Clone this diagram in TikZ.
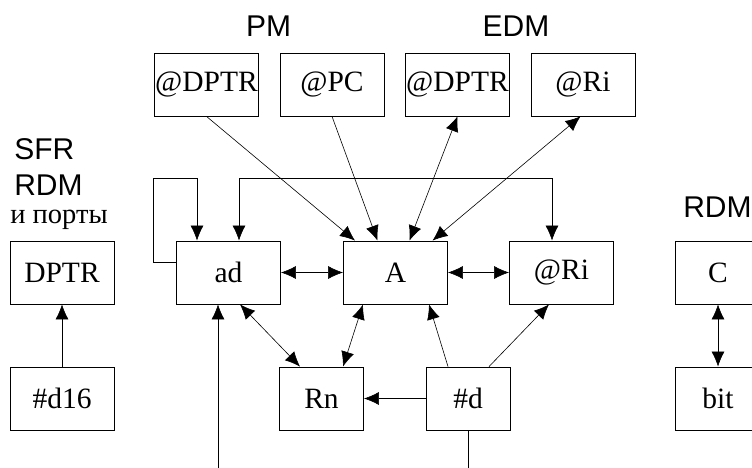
\documentclass[tikz,border=0pt]{standalone}
\usepackage{fontspec}
\setmainfont{Liberation Serif}
\newfontfamily\lblfont{Liberation Sans}
\usetikzlibrary{arrows.meta}

\begin{document}
\begin{tikzpicture}[x=1pt,y=-1pt,>={Latex[length=15pt,width=13pt]},line width=0.6pt,
    box/.style={draw,line width=0.8pt,minimum width=104pt,minimum height=63pt,inner sep=0pt,font=\fontsize{29.5}{32}\selectfont},
    smallbox/.style={box,minimum width=84pt},
    lbl/.style={inner sep=0pt,font=\lblfont\fontsize{30}{32}\selectfont},
    rulbl/.style={inner sep=0pt,font=\fontsize{28.5}{32}\selectfont}]
		\useasboundingbox (0,0) rectangle (752,468);
		\node[lbl,anchor=base]            (PM)                                  at (268.5,37) {PM};
		\node[lbl,anchor=base]            (EDM)                                 at (516,37)   {EDM};
		\node[lbl,anchor=base west]       (SFR)                                 at (14,160)   {SFR};
		\node[lbl,anchor=base west]       (RDMl)                                at (14,195)   {RDM};
		\node[rulbl,anchor=base west]     (port)                                at (10,223)   {и порты};
		\node[lbl,anchor=base west]       (RDMr)                                at (683,217)  {RDM};
		\node[box]                        (PMdptr)                              at (206.5,84.5) {@DPTR};
		\node[box]                        (PMpc)   [right of=PMdptr,node distance=125.5pt] {@PC};
		\node[box]                        (EDMdptr)[right of=PMpc,node distance=125.5pt]   {@DPTR};
		\node[box]                        (EDMri)  [right of=EDMdptr,node distance=125.5pt]{@Ri};
		\node[box]                        (DPTR)                                at (62,272.5) {DPTR};
		\node[box]                        (d16)    [below of=DPTR,node distance=126pt]     {\#d16};
		\node[box]                        (ad)                                  at (228.5,272.5) {ad};
		\node[box]                        (A)      [right of=ad,node distance=167pt]       {A};
		\node[box]                        (Ri)     [right of=A,node distance=166pt]        {@Ri};
		\node[smallbox]                   (Rn)                                  at (321.5,398.5) {Rn};
		\node[smallbox]                   (d)      [right of=Rn,node distance=146.5pt]     {\#d};
		\node[box,minimum width=86pt]     (C)                                   at (718,272.5) {C};
		\node[box,minimum width=86pt]     (bit)    [below of=C,node distance=126pt]        {bit};
		\coordinate                       (adin)                                at (218,468);
		\coordinate                       (dout)                                at (468,468);
		\draw[->]  (PMdptr.south) -- ([xshift=-40.5pt]A.north);
		\draw[->]  (PMpc.south) -- ([xshift=-18pt]A.north);
		\draw[<->] (EDMdptr.south) -- ([xshift=14pt]A.north);
		\draw[<->] ([xshift=-2.5pt]EDMri.south) -- ([xshift=37pt]A.north);
		\draw[->]  ([yshift=10pt]ad.west) -| ([xshift=-23pt,yshift=62pt]ad.north west) -| ([xshift=-31.5pt]ad.north);
		\draw[<->] ([xshift=10.5pt]ad.north) -- ++(0pt,62pt) -| ([xshift=-9.5pt]Ri.north);
		\draw[<->] (ad.east) -- (A.west);
		\draw[<->] (A.east) -- (Ri.west);
		\draw[<->] ([xshift=11.5pt]ad.south) -- ([xshift=-21.5pt]Rn.north);
		\draw[<->] ([xshift=-32.5pt]A.south) -- ([xshift=21.5pt]Rn.north);
		\draw[->]  (d.west) -- (Rn.east);
		\draw[->]  ([xshift=-20pt]d.north) -- ([xshift=33.5pt]A.south);
		\draw[->]  ([xshift=21pt]d.north) -- ([xshift=-12.5pt]Ri.south);
		\draw      (d.south) -- (dout);
		\draw[->]  (adin) -- (adin |- ad.south);
		\draw[->]  (d16.north) -- (DPTR.south);
		\draw[<->] (C.south) -- (bit.north);
\end{tikzpicture}
\end{document}
